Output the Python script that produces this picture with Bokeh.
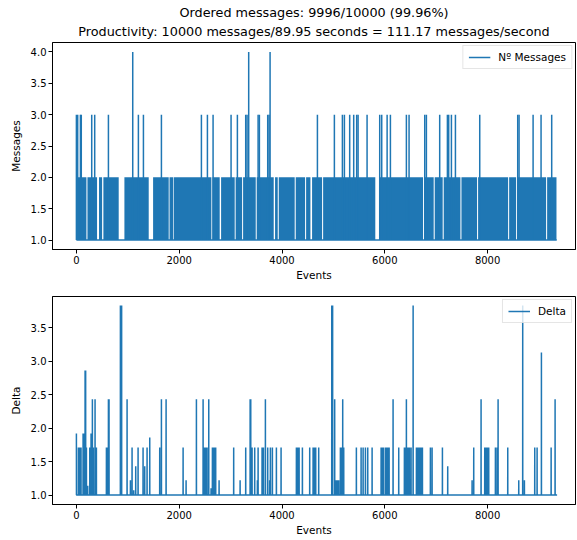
import numpy as np
from bokeh.plotting import figure
from bokeh.models import Range1d, FixedTicker, NumeralTickFormatter, Title, Legend, LegendItem
from bokeh.layouts import column
from bokeh.embed import file_html
from bokeh.resources import INLINE

FONT = "DejaVu Sans"
C0 = "#1f77b4"

title_line1 = "Ordered messages: 9996/10000 (99.96%)"
title_line2 = "Productivity: 10000 messages/89.95 seconds = 111.17 messages/second"

# ---- Messages per event (top): dense 1<->2 oscillation bands, baseline 1, spikes
msg_first_event = 0
msg_last_event = 9345
msg_band_start = [0, 215, 440, 525, 934, 1492, 1812, 1893, 2646, 2815, 3098, 3243, 3508,
                  3865, 3937, 4267, 4469, 4585, 4800, 5900, 6764, 6971, 7146, 7491, 7815,
                  8419, 8573, 9158]
msg_band_end = [195, 402, 500, 823, 1407, 1796, 1881, 2626, 2788, 3080, 3224, 3489, 3839,
                3917, 4247, 4449, 4553, 4780, 5815, 6744, 6951, 7126, 7471, 7795, 8399,
                8554, 9138, 9340]
msg_spike_event = [0, 25, 78, 95, 298, 356, 623, 1096, 1206, 1304, 1654, 2432, 2549, 2659,
                   3009, 3132, 3294, 3320, 3352, 3535, 3560, 3722, 3748, 3768, 4689, 5019,
                   5175, 5214, 5317, 5395, 5453, 5480, 5655, 5901, 5940, 6045, 6109, 6420,
                   6472, 6777, 6809, 7068, 7218, 7243, 7296, 7374, 7847, 8586, 8612, 8885,
                   9040, 9247]
msg_spike_value = [3, 3, 3, 3, 3, 3, 3, 4, 3, 3, 3, 3, 3, 3,
                   3, 3, 3, 3, 4, 3, 3, 3, 3, 4, 3, 3,
                   3, 3, 3, 3, 3, 3, 3, 3, 3, 3, 3, 3,
                   3, 3, 3, 3, 3, 3, 3, 3, 3, 3, 3, 3,
                   3, 3]

# ---- Delta per event (bottom): baseline 1 with spikes
delta_last_event = 9352
delta_spike_event = [0, 39, 55, 70, 90, 130, 150, 169, 180, 195, 220, 260, 275, 285, 300, 311,
                     330, 363, 389, 584, 600, 623, 635, 856, 880, 986, 1051, 1083, 1115, 1154,
                     1200, 1297, 1329, 1375, 1427, 1621, 1654, 1745, 2076, 2134, 2335, 2465,
                     2477, 2500, 2520, 2542, 2575, 2620, 2646, 2670, 2690, 2710, 2776, 3060,
                     3185, 3294, 3380, 3392, 3418, 3469, 3521, 3535, 3612, 3638, 3677, 3722,
                     3760, 3774, 3813, 3891, 3982, 4280, 4300, 4315, 4333, 4397, 4539, 4605,
                     4630, 4656, 4714, 4968, 4985, 5025, 5052, 5075, 5103, 5136, 5160, 5181,
                     5201, 5447, 5539, 5578, 5623, 5668, 5753, 5928, 5950, 5965, 5979, 6018,
                     6045, 6057, 6084, 6161, 6271, 6381, 6400, 6420, 6440, 6460, 6480, 6511,
                     6551, 6615, 6640, 6660, 6685, 6706, 6732, 6887, 6920, 7121, 7224, 7698,
                     7730, 7873, 7944, 7970, 7995, 8022, 8152, 8185, 8204, 8392, 8606, 8683,
                     8716, 8917, 8963, 9047, 9236, 9313]
delta_spike_value = [1.92, 1.71, 1.71, 1.71, 1.71, 1.92, 1.92, 2.86, 2.86, 1.71, 1.14, 1.71, 1.71, 1.92, 1.71, 2.43,
                     1.71, 2.43, 1.71, 1.71, 1.71, 2.43, 2.43, 3.83, 3.83, 2.43, 1.22, 1.71, 1.07, 1.43,
                     1.71, 1.71, 1.43, 1.71, 1.86, 1.71, 2.43, 2.43, 1.71, 1.22, 2.43, 2.43,
                     1.71, 1.71, 1.71, 1.71, 2.43, 1.10, 1.71, 1.71, 1.71, 1.71, 1.22, 1.71,
                     1.22, 1.71, 2.43, 2.43, 1.71, 1.71, 1.22, 1.71, 1.71, 1.71, 2.43, 1.71,
                     1.22, 1.71, 1.71, 1.71, 1.71, 1.71, 1.71, 1.71, 1.71, 1.71, 1.71, 1.71,
                     1.71, 1.71, 1.71, 3.83, 3.83, 2.43, 1.22, 1.22, 1.22, 1.71, 1.71, 2.43,
                     1.71, 1.71, 1.71, 1.71, 1.71, 1.71, 1.71, 1.71, 1.71, 1.22, 1.71, 1.71,
                     1.71, 1.71, 1.71, 2.43, 1.71, 1.71, 1.71, 2.43, 1.71, 1.71, 1.71, 1.71,
                     3.83, 1.71, 1.71, 1.71, 1.71, 1.71, 1.71, 1.71, 1.71, 1.71, 1.43, 1.22,
                     1.71, 2.43, 1.71, 1.71, 1.71, 1.71, 1.71, 1.71, 2.43, 1.71, 1.22, 3.83,
                     1.22, 1.71, 1.71, 3.13, 1.71, 2.43]

msg_yticks = [1.0, 1.5, 2.0, 2.5, 3.0, 3.5, 4.0]
delta_yticks = [1.0, 1.5, 2.0, 2.5, 3.0, 3.5]
xticks = [0, 2000, 4000, 6000, 8000]


def style(p, yticks, ylabel):
    p.xgrid.visible = False
    p.ygrid.visible = False
    p.outline_line_color = "black"
    p.outline_line_width = 1
    p.outline_line_alpha = 1
    p.background_fill_color = "white"
    p.border_fill_color = "white"
    p.xaxis.ticker = FixedTicker(ticks=xticks)
    p.yaxis.ticker = FixedTicker(ticks=yticks)
    p.xaxis.formatter = NumeralTickFormatter(format="0")
    p.yaxis.formatter = NumeralTickFormatter(format="0.0")
    p.xaxis.axis_label = "Events"
    p.yaxis.axis_label = ylabel
    for ax in (p.xaxis, p.yaxis):
        ax.axis_line_color = "black"
        ax.major_tick_line_color = "black"
        ax.major_tick_in = 0
        ax.major_tick_out = 4
        ax.minor_tick_line_color = None
        ax.major_label_text_font = FONT
        ax.major_label_text_font_size = "10px"
        ax.major_label_text_color = "black"
        ax.axis_label_text_font = FONT
        ax.axis_label_text_font_size = "10.5px"
        ax.axis_label_text_font_style = "normal"
        ax.axis_label_text_color = "black"
        ax.major_label_standoff = 2
    p.xaxis.axis_label_standoff = 2
    p.yaxis.axis_label_standoff = 6


# ---------------- top figure ----------------
p1 = figure(frame_width=523, frame_height=207, output_backend="svg", toolbar_location=None,
            x_range=Range1d(-465, 9710), y_range=Range1d(0.85, 4.15),
            min_border_left=52, min_border_right=2, min_border_top=42, min_border_bottom=37,
            title_location=None)
style(p1, msg_yticks, "Messages")
p1.add_layout(Title(text=title_line2, align="center", text_font=FONT, text_font_size="12.8px",
                    text_font_style="normal", text_color="black", standoff=8), "above")
p1.add_layout(Title(text=title_line1, align="center", text_font=FONT, text_font_size="12.8px",
                    text_font_style="normal", text_color="black", standoff=-4.5), "above")

p1.quad(left=msg_band_start, right=msg_band_end, bottom=1, top=2,
        fill_color=C0, line_color=None)
base = p1.line(x=[msg_first_event, msg_last_event], y=[1, 1], line_color=C0, line_width=1.5)
p1.segment(x0=msg_spike_event, y0=[1] * len(msg_spike_event), x1=msg_spike_event,
           y1=msg_spike_value, line_color=C0, line_width=1.5)
leg1 = Legend(items=[LegendItem(label="Nº Messages", renderers=[base])], location="top_right")
p1.add_layout(leg1)

# ---------------- bottom figure ----------------
delta_x = np.arange(0, delta_last_event + 1)
delta_y = np.ones(delta_last_event + 1)
delta_y[np.array(delta_spike_event)] = delta_spike_value

p2 = figure(frame_width=523, frame_height=208, output_backend="svg", toolbar_location=None,
            x_range=Range1d(-465, 9710), y_range=Range1d(0.859, 3.965),
            min_border_left=52, min_border_right=2, min_border_top=10, min_border_bottom=36,
            title_location=None)
style(p2, delta_yticks, "Delta")
dl = p2.line(x=delta_x, y=delta_y, line_color=C0, line_width=1.5)
leg2 = Legend(items=[LegendItem(label="Delta", renderers=[dl])], location="top_right")
p2.add_layout(leg2)

for leg in (leg1, leg2):
    leg.label_text_font = FONT
    leg.label_text_font_size = "10.5px"
    leg.label_text_color = "black"
    leg.border_line_color = "#cccccc"
    leg.border_line_width = 1
    leg.background_fill_alpha = 0.8
    leg.margin = 3
    leg.padding = 5
    leg.glyph_width = 22
    leg.glyph_height = 12
    leg.label_standoff = 8
    leg.label_height = 12

layout = column(p1, p2, spacing=0)
open("out.html", "w").write(file_html(layout, INLINE))
